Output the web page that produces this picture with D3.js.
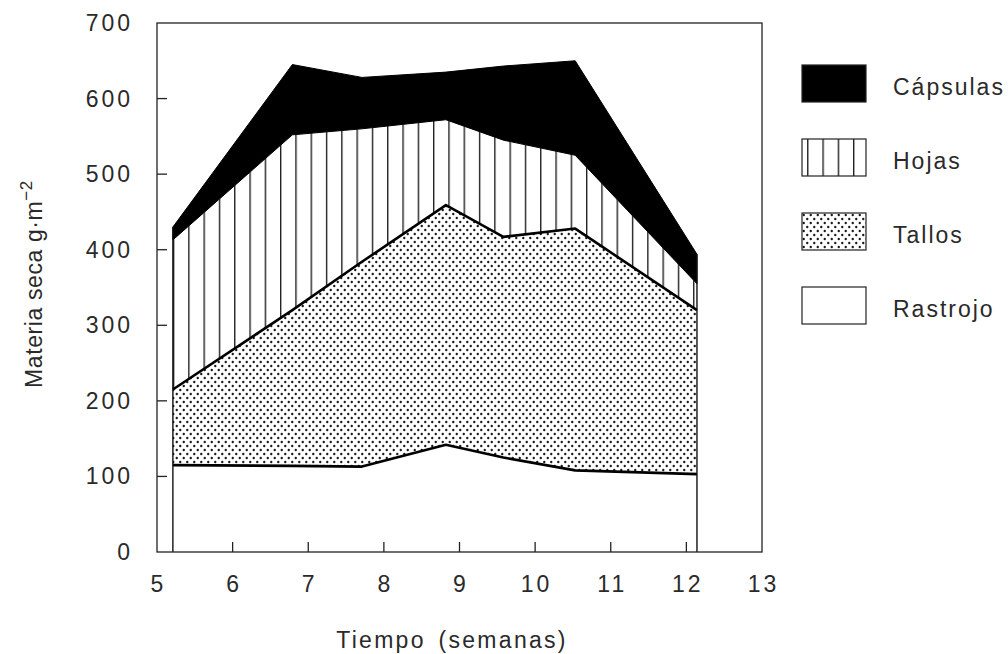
<!DOCTYPE html>
<html>
<head>
<meta charset="utf-8">
<script src="https://cdn.jsdelivr.net/npm/d3@7"></script>
<style>
  body { margin: 0; background: #fff; }
  text { font-family: "Liberation Sans", Arial, sans-serif; fill: #2a2a2a; font-size: 23px; }
</style>
</head>
<body>
<div id="wrapper"></div>
<script>
// sampling times (weeks) and dry matter per fraction, g/m2
const semanas   = [5.21, 6.79, 7.71, 8.82, 9.58, 10.53, 12.14];
const rastrojo  = [115, 114, 113, 142, 125, 108, 103];
const tallos    = [100, 206, 271, 317, 292, 320, 217];
const hojas     = [198, 232, 176, 113, 128, 97, 35];
const capsulas  = [17, 93, 68, 63, 98, 125, 39];
const keys      = ["rastrojo", "tallos", "hojas", "capsulas"];
const leyenda   = ["Cápsulas", "Hojas", "Tallos", "Rastrojo"];
const xTicks    = [5, 6, 7, 8, 9, 10, 11, 12, 13];
const yTicks    = [0, 100, 200, 300, 400, 500, 600, 700];

var dimension = {
  width: 1008,
  height: 654,
  margin: { top: 23, right: 246, bottom: 102, left: 157 }
}
dimension.boundedWidth = dimension.width - dimension.margin.left - dimension.margin.right;
dimension.boundedHeight = dimension.height - dimension.margin.top - dimension.margin.bottom;

const rows = semanas.map((s, i) => ({
  semana: s, rastrojo: rastrojo[i], tallos: tallos[i], hojas: hojas[i], capsulas: capsulas[i]
}));

const x = d3.scaleLinear().domain([5, 13]).range([dimension.margin.left, dimension.margin.left + dimension.boundedWidth]);
const y = d3.scaleLinear().domain([0, 700]).range([dimension.margin.top + dimension.boundedHeight, dimension.margin.top]);

const svg = d3.select("#wrapper").append("svg")
  .attr("width", dimension.width)
  .attr("height", dimension.height);

const defs = svg.append("defs");
// vertical hatching for Hojas (one for the plot, one shifted for the legend box)
function hatch(id, x0) {
  const p = defs.append("pattern")
    .attr("id", id)
    .attr("patternUnits", "userSpaceOnUse")
    .attr("width", 15.3).attr("height", 10)
    .attr("x", x0);
  p.append("rect").attr("width", 15.3).attr("height", 10).attr("fill", "#fff");
  p.append("line").attr("x1", 0.7).attr("x2", 0.7).attr("y1", 0).attr("y2", 10)
    .attr("stroke", "#111").attr("stroke-width", 1.3);
}
hatch("pat-hojas", x(semanas[0]));
hatch("pat-hojas-leg", 816);

// dot screen for Tallos
const dp = defs.append("pattern")
  .attr("id", "pat-tallos")
  .attr("patternUnits", "userSpaceOnUse")
  .attr("width", 7).attr("height", 8);
dp.append("rect").attr("width", 7).attr("height", 8).attr("fill", "#fff");
dp.append("circle").attr("cx", 1.75).attr("cy", 2).attr("r", 1.2).attr("fill", "#1a1a1a");
dp.append("circle").attr("cx", 5.25).attr("cy", 6).attr("r", 1.2).attr("fill", "#1a1a1a");

const fills = { rastrojo: "#fff", tallos: "url(#pat-tallos)", hojas: "url(#pat-hojas)", capsulas: "#000" };

const series = d3.stack().keys(keys)(rows);

const area = d3.area()
  .x(d => x(d.data.semana))
  .y0(d => y(d[0]))
  .y1(d => y(d[1]));

svg.selectAll("path.layer")
  .data(series)
  .enter()
  .append("path")
  .attr("class", "layer")
  .attr("d", area)
  .attr("fill", d => fills[d.key])
  .attr("stroke", d => d.key == "capsulas" ? "#000" : "none")
  .attr("stroke-width", 1);

// heavy boundary lines on top of rastrojo and tallos
const line = d3.line()
  .x(d => x(d.data.semana))
  .y(d => y(d[1]));
svg.selectAll("path.edge")
  .data(series.slice(0, 2))
  .enter()
  .append("path")
  .attr("class", "edge")
  .attr("d", line)
  .attr("fill", "none")
  .attr("stroke", "#000")
  .attr("stroke-width", 2.6)
  .attr("stroke-linejoin", "round");

// vertical edges of the stack
const topLayer = series[series.length - 1];
[0, semanas.length - 1].forEach(i => {
  svg.append("line")
    .attr("x1", x(semanas[i])).attr("x2", x(semanas[i]))
    .attr("y1", y(0)).attr("y2", y(topLayer[i][1]))
    .attr("stroke", "#111").attr("stroke-width", 1.4);
});

// frame
svg.append("rect")
  .attr("x", x(5)).attr("y", y(700))
  .attr("width", x(13) - x(5)).attr("height", y(0) - y(700))
  .attr("fill", "none").attr("stroke", "#222").attr("stroke-width", 1.3);

// ticks inward
svg.selectAll("line.xt")
  .data(xTicks.slice(1, -1))
  .enter().append("line")
  .attr("x1", d => x(d)).attr("x2", d => x(d))
  .attr("y1", y(0)).attr("y2", y(0) - 10)
  .attr("stroke", "#222").attr("stroke-width", 1.3);
svg.selectAll("line.yt")
  .data(yTicks.slice(1, -1))
  .enter().append("line")
  .attr("x1", x(5)).attr("x2", x(5) + 10)
  .attr("y1", d => y(d)).attr("y2", d => y(d))
  .attr("stroke", "#222").attr("stroke-width", 1.3);

// tick labels (letter-spacing adds a trailing gap, so shift by it)
svg.selectAll("text.xl")
  .data(xTicks)
  .enter().append("text")
  .attr("x", d => x(d) + 1.5).attr("y", y(0) + 40)
  .attr("text-anchor", "middle")
  .style("letter-spacing", "3px")
  .text(d => d);
svg.selectAll("text.yl")
  .data(yTicks)
  .enter().append("text")
  .attr("x", 133).attr("y", d => y(d) + 8)
  .attr("text-anchor", "end")
  .style("letter-spacing", "3px")
  .text(d => d);

svg.append("text")
  .attr("x", 452).attr("y", 648)
  .attr("text-anchor", "middle")
  .style("letter-spacing", "2.3px")
  .style("word-spacing", "4px")
  .text("Tiempo (semanas)");

const yt = svg.append("text")
  .attr("transform", "translate(42,284) rotate(-90)")
  .attr("text-anchor", "middle")
  .style("letter-spacing", "0.6px");
yt.append("tspan").text("Materia seca  g·m");
yt.append("tspan").attr("dy", -10).style("font-size", "17px").text("−2");

// legend
const lg = svg.selectAll("g.leg")
  .data(leyenda)
  .enter().append("g")
  .attr("class", "leg")
  .attr("transform", (d, i) => `translate(802,${65 + i * 74})`);
lg.append("rect")
  .attr("width", 64).attr("height", 37)
  .attr("fill", (d, i) => i == 1 ? "url(#pat-hojas-leg)" : fills[keys[3 - i]])
  .attr("stroke", "#222").attr("stroke-width", 1.2);
lg.append("text")
  .attr("x", 91).attr("y", 30)
  .style("letter-spacing", "2px")
  .text(d => d);
</script>
</body>
</html>
